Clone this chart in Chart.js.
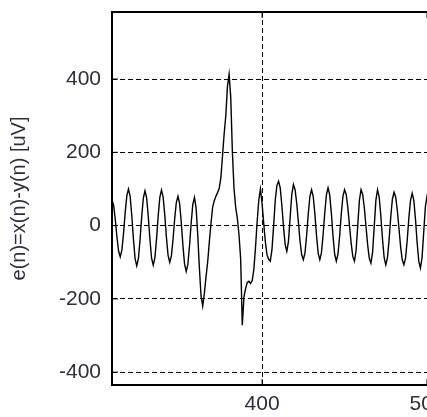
<!DOCTYPE html>
<html>
<head>
<meta charset="utf-8">
<script src="https://cdn.jsdelivr.net/npm/chart.js@4/dist/chart.umd.min.js"></script>
<style>
  html, body { margin: 0; padding: 0; background: #fff; overflow: hidden; }
  #wrap { width: 470px; height: 417px; }
</style>
</head>
<body>
<div id="wrap"><canvas id="errChart" width="470" height="417"></canvas></div>
<script>
// first sample index shown, then one value per sample (uV)
const firstN = 309;
const eValues = [
    70, 55, 16, -31, -70, -85, -67, -21, 36, 82,          // 309-318
    100, 80, 27, -37, -90, -110, -90, -39, 24, 75,        // 319-328
    95, 76, 25, -38, -89, -108, -88, -37, 26, 77,         // 329-338
    97, 78, 29, -32, -81, -100, -83, -38, 18, 63,         // 339-348
    80, 60, 9, -54, -105, -125, -106, -55, 7, 58,         // 349-358
    77, 48, -26, -117, -192, -220, -185, -140, -100, -45, // 359-368
    5, 50, 68, 80, 90, 102, 130, 190, 250, 300,           // 369-378
    380, 413, 350, 200, 100, 50, 20, -25, -90, -272,      // 379-388
    -195, -172, -155, -152, -158, -150, -120, -60, 10, 70, // 389-398
    100, 60, 5, -45, -80, -92, -97, -65, 0, 70,           // 399-408
    110, 121, 103, 55, -4, -52, -70, -43, 21, 85,         // 409-418
    112, 98, 61, 10, -42, -79, -93, -75, -27, 32,         // 419-428
    80, 98, 80, 32, -27, -75, -93, -74, -25, 35,          // 429-438
    84, 103, 84, 34, -28, -78, -97, -78, -30, 31,         // 439-448
    79, 98, 85, 49, 0, -48, -84, -97, -68, 0,             // 449-458
    69, 98, 85, 48, -2, -52, -89, -102, -73, -2,          // 459-468
    69, 98, 78, 27, -36, -87, -107, -88, -39, 23,         // 469-478
    72, 91, 78, 42, -8, -58, -94, -107, -88, -40,         // 479-488
    21, 69, 88, 69, 18, -46, -97, -116, -87, -18,         // 489-498
    51, 80, 65, 20, -40, -85, -105, -85, -35, 25,         // 499-508
    70, 85, 70, 25, -35, -80, -100                        // 509-515
];
const xTicks = [400, 500];
const yTicks = [-400, -200, 0, 200, 400];
const yTitle = 'e(n)=x(n)-y(n) [uV]';

const labelColor = '#2e2e3c';

const points = eValues.map((v, i) => ({ x: firstN + i, y: v }));

// frame round the plot plus short inward ticks
const framePlugin = {
    id: 'frame',
    afterDraw(chart) {
        const { ctx, chartArea: a, scales } = chart;
        ctx.save();
        ctx.strokeStyle = '#000';
        ctx.lineWidth = 1;
        ctx.setLineDash([]);
        ctx.beginPath();
        yTicks.forEach(t => {
            const y = scales.y.getPixelForValue(t);
            ctx.moveTo(a.left, y); ctx.lineTo(a.left + 6, y);
        });
        xTicks.forEach(t => {
            const x = scales.x.getPixelForValue(t);
            ctx.moveTo(x, a.bottom); ctx.lineTo(x, a.bottom - 6);
            ctx.moveTo(x, a.top); ctx.lineTo(x, a.top + 6);
        });
        ctx.stroke();
        ctx.lineWidth = 2;
        ctx.strokeRect(a.left, a.top, a.right - a.left, a.bottom - a.top);
        ctx.restore();
    }
};

new Chart(document.getElementById('errChart').getContext('2d'), {
    type: 'line',
    data: {
        datasets: [{
            data: points,
            borderColor: '#000',
            borderWidth: 1.4,
            pointRadius: 0,
            tension: 0,
            fill: false
        }]
    },
    options: {
        responsive: false,
        animation: false,
        layout: { padding: { top: 12, right: 10, bottom: 0, left: 0 } },
        plugins: { legend: { display: false }, tooltip: { enabled: false } },
        scales: {
            x: {
                type: 'linear',
                min: 309,
                max: 520,
                afterBuildTicks: s => { s.ticks = xTicks.map(v => ({ value: v })); },
                afterFit: s => { s.height = 32; s.paddingLeft = 0; s.paddingRight = 0; },
                grid: { color: '#000', lineWidth: 1, drawTicks: false },
                border: { display: false, dash: [5, 3] },
                ticks: {
                    padding: 7,
                    color: labelColor,
                    maxRotation: 0,
                    font: { family: 'Liberation Sans, Arial', size: 21 }
                }
            },
            y: {
                min: -435,
                max: 583,
                afterBuildTicks: s => { s.ticks = yTicks.map(v => ({ value: v })); },
                afterFit: s => { s.width = 112; s.paddingTop = 0; s.paddingBottom = 0; },
                grid: { color: '#000', lineWidth: 1, drawTicks: false },
                border: { display: false, dash: [5, 3] },
                ticks: {
                    padding: 11,
                    color: labelColor,
                    font: { family: 'Liberation Sans, Arial', size: 21 }
                },
                title: {
                    display: true,
                    text: yTitle,
                    color: labelColor,
                    padding: { top: 7, bottom: 0 },
                    font: { family: 'Liberation Sans, Arial', size: 20 }
                }
            }
        }
    },
    plugins: [framePlugin]
});
</script>
</body>
</html>
